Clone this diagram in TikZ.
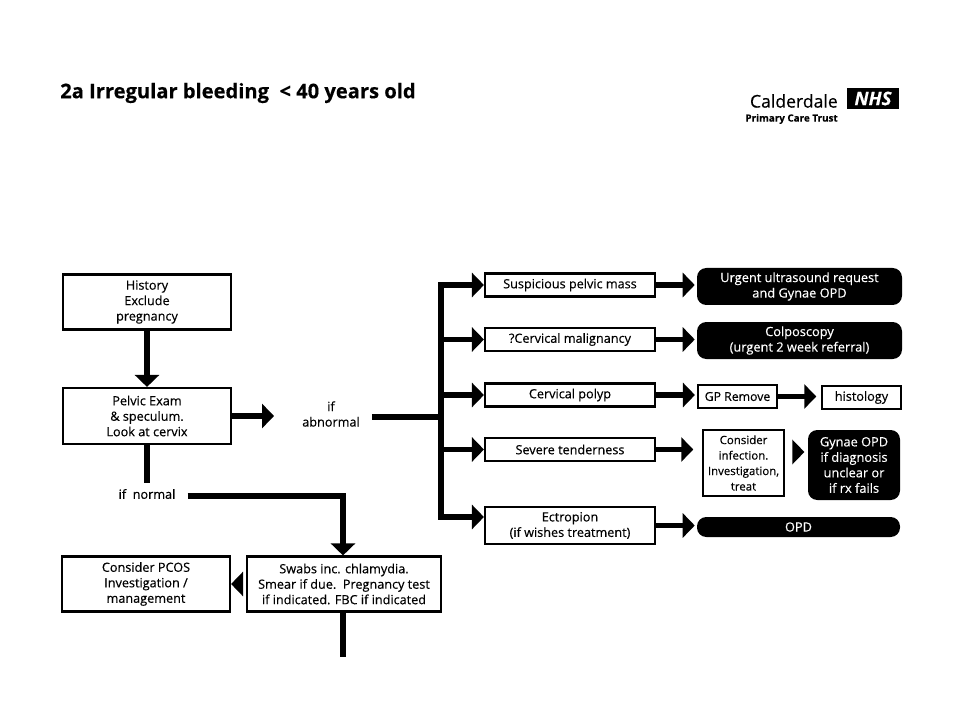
\documentclass[tikz,border=0pt]{standalone}
\usepackage{fontspec}
\setmainfont{Open Sans}[RawFeature={embolden=0.35}]
\usetikzlibrary{arrows.meta}
\tikzset{
  boxn/.style 2 args={draw=black, line width=1.6pt, fill=white, align=center, inner sep=0pt,
    minimum width=#1*0.75pt, minimum height=#2*0.75pt, font=\fontsize{9.5}{11.6}\selectfont},
  blackn/.style 2 args={fill=black, text=white, rounded corners=7pt, align=center, inner sep=0pt,
    minimum width=#1*0.75pt, minimum height=#2*0.75pt, font=\fontsize{9.6}{11.6}\selectfont},
  labeln/.style={align=center, inner xsep=9pt, inner ysep=4pt, font=\fontsize{9.5}{11.6}\selectfont},
  fatline/.style={line width=4pt},
  fatarrow/.style={line width=4pt, -{Triangle[length=9pt,width=18pt]}}
}
\begin{document}
\begin{tikzpicture}[x=0.75pt,y=-0.75pt]
  \useasboundingbox (0,0) rectangle (960,720);
  \coordinate (trunktop) at (441,285);
  \coordinate (trunkbot) at (441,517);
  \coordinate (trunkin) at (441,417);
  \coordinate (bend) at (343,496);
  \coordinate (swabsout) at (343,657);
  \coordinate (tiprow) at (800,452);
  \node [anchor=west, inner sep=0pt, font=\bfseries\fontsize{15.1}{17}\selectfont] (title) at (60,93) {2a Irregular bleeding\ \ < 40 years old};
  \node [anchor=east, inner sep=0pt, font=\fontsize{13.2}{15}\selectfont] (calder) at (838,101) {Calderdale};
  \node [fill=black, text=white, inner sep=0pt, minimum width=39pt, minimum height=16pt, font=\bfseries\itshape\fontsize{14}{14}\selectfont] (nhs) at (873,98.5) {NHS};
  \node [anchor=east, inner sep=0pt, font=\bfseries\fontsize{7.4}{9}\selectfont] (pct) at (838,119) {Primary Care Trust};
  \node [boxn={168}{55}] (history) at (147,302) {History\\Exclude\\pregnancy};
  \node [boxn={168}{56}] (pelvic) at (147,416) {Pelvic Exam\\\& speculum.\\Look at cervix};
  \node [labeln] (ifabn) at (331,414) {if\\abnormal};
  \node [labeln] (ifnorm) at (147,494) {if\ \ normal};
  \node [boxn={194}{55}] (swabs) at (344,584) {Swabs inc. chlamydia.\\Smear if due.\ \ Pregnancy test\\if indicated. FBC if indicated};
  \node [boxn={168}{55}] (pcos) at (146,584) {Consider PCOS\\Investigation /\\management};
  \node [boxn={170}{23}] (mass) at (570,285) {Suspicious pelvic mass};
  \node [boxn={170}{23}] (malig) at (570,339.5) {?Cervical malignancy};
  \node [boxn={170}{23}] (polyp) at (570,395) {Cervical polyp};
  \node [boxn={170}{23}] (severe) at (570,449.5) {Severe tenderness};
  \node [boxn={170}{37}] (ectro) at (570,525.5) {Ectropion\\(if wishes treatment)};
  \node [blackn={205}{37}] (urgent) at (799.5,286.5) {Urgent ultrasound request\\and Gynae OPD};
  \node [blackn={205}{37}] (colpo) at (799.5,340.5) {Colposcopy\\(urgent 2 week referral)};
  \node [boxn={79}{23}, font=\fontsize{9.2}{11.6}\selectfont] (gp) at (737.5,396.5) {GP Remove};
  \node [boxn={79}{23}] (histo) at (861.5,397.5) {histology};
  \node [boxn={81}{66}, font=\fontsize{8.6}{11.6}\selectfont] (infect) at (743.5,463) {Consider\\infection.\\Investigation,\\treat};
  \node [blackn={92}{70}] (gynae) at (854,465) {Gynae OPD\\if diagnosis\\unclear or\\if rx fails};
  \node [blackn={203}{20}] (opd) at (798.5,527) {OPD};
  \draw [fatline, line cap=rect] (trunktop) -- (trunkbot);
  \draw [fatarrow] (history) -- (pelvic);
  \draw [fatarrow, shorten >=12pt] (pelvic.east) -- (pelvic.east -| ifabn.west);
  \draw [fatline] (ifabn.east |- trunkin) -- (trunkin);
  \draw [fatline] (pelvic) -- (ifnorm);
  \draw [fatarrow] (ifnorm.east |- bend) -- (bend) -- (swabs.north -| bend);
  \draw [fatarrow, shorten <=3pt] (swabs.west) -- (pcos.east);
  \draw [fatline] (swabs.south -| swabsout) -- (swabsout);
  \draw [fatarrow] (trunktop) -- (mass);
  \draw [fatarrow] (trunktop |- malig) -- (malig);
  \draw [fatarrow] (trunktop |- polyp) -- (polyp);
  \draw [fatarrow] (trunktop |- severe) -- (severe);
  \draw [fatarrow] (trunkbot) -- (ectro.west |- trunkbot);
  \draw [fatarrow, shorten >=1.5pt] (mass) -- (mass -| urgent.west);
  \draw [fatarrow, shorten >=1.5pt] (malig) -- (malig -| colpo.west);
  \draw [fatarrow, shorten >=1.5pt] (polyp) -- (polyp -| gp.west);
  \draw [fatarrow, shorten >=6.5pt] (severe) -- (severe -| infect.west);
  \draw [fatarrow, shorten >=1.5pt] (ectro) -- (ectro -| opd.west);
  \draw [fatarrow, shorten >=3.5pt] (gp) -- (gp -| histo.west);
  \draw [fatarrow, shorten <=6.5pt, shorten >=2.5pt] (infect.east |- tiprow) -- (gynae.west |- tiprow);
\end{tikzpicture}
\end{document}
